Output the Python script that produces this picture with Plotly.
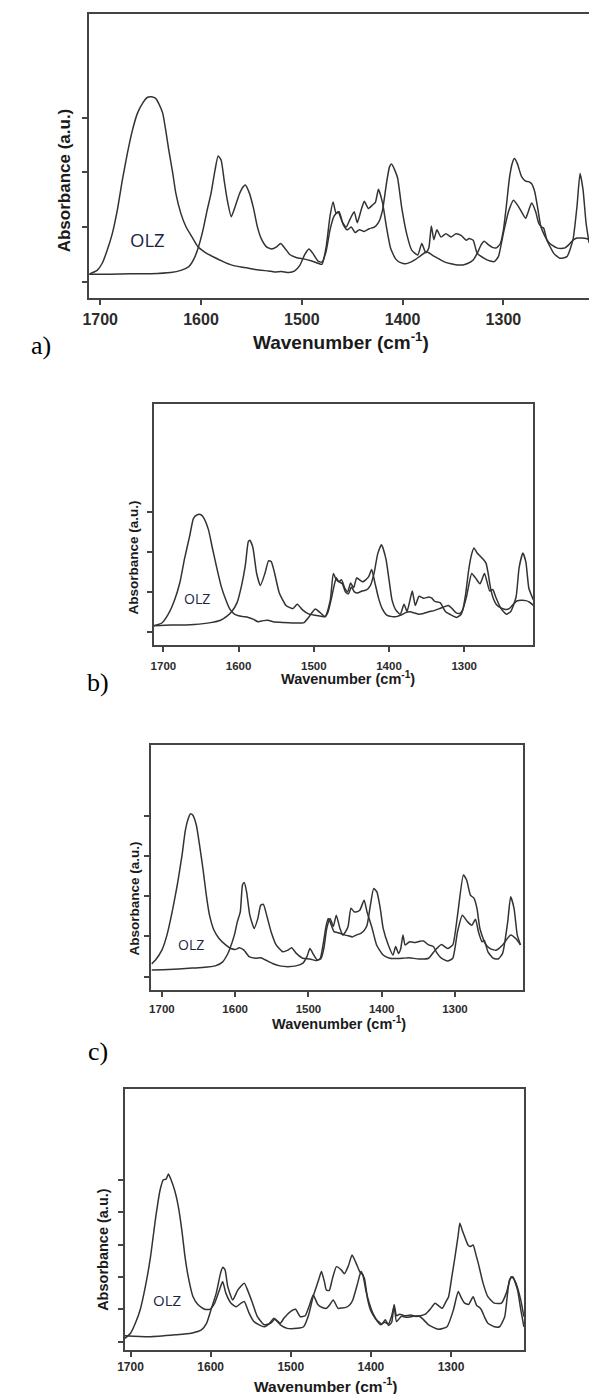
import plotly.graph_objects as go

# ---------------- data (wavenumber cm-1, absorbance in tick units) ----------------
x_ticks = [1700, 1600, 1500, 1400, 1300]
x_tick_text = ["1700", "1600", "1500", "1400", "1300"]

a_A = [(1711, 0.14), (1703, 0.21), (1698, 0.34), (1693, 0.58), (1688, 0.88), (1683, 1.31), (1678, 1.86),
       (1673, 2.35), (1668, 2.77), (1663, 3.08), (1658, 3.26), (1653, 3.37), (1649, 3.38), (1645, 3.35),
       (1642, 3.26), (1638, 3.08), (1635, 2.77), (1632, 2.41), (1628, 1.98), (1625, 1.62), (1620, 1.25),
       (1615, 1.01), (1609, 0.82), (1603, 0.64), (1596, 0.54), (1587, 0.45), (1578, 0.37), (1570, 0.31),
       (1560, 0.27), (1550, 0.24), (1540, 0.21), (1533, 0.20), (1527, 0.18), (1520, 0.19), (1513, 0.17),
       (1507, 0.20), (1502, 0.30), (1497, 0.50), (1493, 0.60), (1489, 0.52), (1484, 0.38), (1480, 0.36),
       (1476, 0.55), (1472, 0.95), (1468, 1.20), (1464, 1.28), (1460, 1.10), (1456, 1.00), (1452, 1.15),
       (1448, 1.28), (1445, 1.08), (1441, 1.32), (1438, 1.47), (1434, 1.34), (1430, 1.40), (1427, 1.45),
       (1424, 1.69), (1420, 1.45), (1416, 1.00), (1412, 0.62), (1407, 0.42), (1402, 0.35), (1397, 0.33),
       (1392, 0.36), (1388, 0.40), (1382, 0.48), (1376, 0.55), (1370, 0.48), (1364, 0.42), (1358, 0.36),
       (1352, 0.33), (1346, 0.31), (1340, 0.31), (1335, 0.34), (1330, 0.40), (1326, 0.52), (1322, 0.68),
       (1319, 0.74), (1315, 0.68), (1311, 0.63), (1307, 0.62), (1303, 0.70), (1300, 0.95), (1297, 1.40),
       (1294, 1.90), (1291, 2.18), (1289, 2.25), (1286, 2.15), (1282, 1.92), (1278, 1.84), (1275, 1.83),
       (1272, 1.79), (1269, 1.65), (1266, 1.35), (1263, 1.02), (1259, 0.84), (1255, 0.72), (1251, 0.66),
       (1247, 0.62), (1243, 0.61), (1239, 0.62), (1235, 0.68), (1231, 0.76), (1227, 0.80), (1222, 0.80),
       (1218, 0.79), (1215, 0.77)]

a_B = [(1711, 0.14), (1690, 0.14), (1670, 0.15), (1650, 0.15), (1630, 0.17), (1620, 0.21), (1612, 0.28),
       (1607, 0.42), (1603, 0.61), (1598, 0.95), (1594, 1.30), (1590, 1.62), (1586, 2.05), (1583, 2.30),
       (1580, 2.22), (1577, 1.85), (1574, 1.50), (1570, 1.19), (1566, 1.38), (1562, 1.60), (1558, 1.74),
       (1556, 1.77), (1552, 1.62), (1548, 1.35), (1544, 1.00), (1540, 0.78), (1535, 0.64), (1530, 0.60),
       (1525, 0.64), (1521, 0.70), (1517, 0.62), (1512, 0.50), (1505, 0.44), (1498, 0.42), (1490, 0.38),
       (1484, 0.34), (1480, 0.32), (1476, 0.62), (1472, 1.20), (1469, 1.46), (1466, 1.25), (1463, 1.28),
       (1459, 1.05), (1455, 0.95), (1451, 1.00), (1447, 0.90), (1443, 0.95), (1438, 0.92), (1433, 0.97),
       (1428, 1.00), (1424, 1.08), (1420, 1.30), (1416, 1.80), (1413, 2.10), (1411, 2.15), (1408, 2.05),
       (1405, 1.90), (1401, 1.37), (1396, 0.88), (1391, 0.58), (1385, 0.49), (1381, 0.70), (1377, 0.53),
       (1374, 0.62), (1371.5, 1.02), (1369, 0.77), (1366, 0.95), (1362, 0.82), (1357, 0.88), (1352, 0.82),
       (1347, 0.88), (1342, 0.85), (1337, 0.76), (1334, 0.79), (1330, 0.76), (1326, 0.52), (1319, 0.43),
       (1313, 0.38), (1309, 0.37), (1305, 0.46), (1300, 0.89), (1295, 1.28), (1290, 1.49), (1286, 1.40),
       (1283, 1.31), (1278, 1.16), (1275, 1.30), (1272, 1.44), (1268, 1.28), (1265, 1.07), (1262, 1.00),
       (1260, 0.98), (1257, 0.77), (1250, 0.52), (1244, 0.43), (1237, 0.46), (1231, 0.77), (1227, 1.38),
       (1224, 1.98), (1221, 1.68), (1218, 1.07), (1215, 0.71)]

b_A = [(1713, 0.15), (1702, 0.22), (1693.5, 0.44), (1685, 0.80), (1678, 1.24), (1672, 1.82), (1665, 2.40),
       (1660, 2.84), (1655, 2.93), (1650, 2.93), (1646, 2.84), (1640, 2.55), (1635, 2.11), (1629, 1.60),
       (1623, 1.13), (1617, 0.80), (1612, 0.58), (1606, 0.45), (1600, 0.40), (1594, 0.38), (1587, 0.36),
       (1580, 0.31), (1574, 0.25), (1567, 0.28), (1561, 0.29), (1554, 0.25), (1541, 0.23), (1528, 0.22),
       (1513, 0.23), (1507, 0.36), (1498, 0.57), (1491, 0.47), (1485, 0.38), (1481, 0.50), (1477, 0.80),
       (1473, 1.15), (1470, 1.35), (1467, 1.25), (1463, 1.30), (1459, 1.10), (1455, 1.00), (1451, 1.22),
       (1447, 1.10), (1443, 1.35), (1439, 1.30), (1435, 1.25), (1431, 1.30), (1427, 1.38), (1423, 1.56),
       (1419, 1.25), (1414, 0.85), (1409, 0.58), (1403, 0.42), (1396, 0.38), (1390, 0.38), (1384, 0.42),
       (1378, 0.48), (1372, 0.50), (1366, 0.47), (1360, 0.44), (1354, 0.46), (1347, 0.50), (1340, 0.53),
       (1333, 0.58), (1326, 0.63), (1321, 0.66), (1316, 0.58), (1311, 0.48), (1306, 0.46), (1302, 0.55),
       (1298, 0.95), (1294, 1.55), (1290, 1.95), (1287, 2.10), (1283, 1.98), (1279, 1.90), (1275, 1.82),
       (1271, 1.72), (1268, 1.45), (1265, 1.10), (1261, 0.82), (1257, 0.68), (1251, 0.60), (1245, 0.56),
       (1240, 0.58), (1235, 0.68), (1230, 0.77), (1224, 0.79), (1218, 0.78), (1213, 0.74), (1208, 0.66)]

b_B = [(1713, 0.15), (1690, 0.17), (1670, 0.17), (1659, 0.18), (1637, 0.23), (1624, 0.29), (1615, 0.40),
       (1609, 0.51), (1602, 0.73), (1596, 1.16), (1591, 1.67), (1587, 2.26), (1585, 2.29), (1581, 2.11),
       (1576, 1.46), (1571, 1.16), (1565, 1.46), (1560, 1.78), (1556.5, 1.75), (1552, 1.46), (1546, 0.98),
       (1537, 0.66), (1528, 0.58), (1522, 0.69), (1515, 0.55), (1507, 0.45), (1494, 0.40), (1485, 0.38),
       (1478, 0.80), (1474, 1.46), (1470, 1.30), (1466, 1.25), (1462, 1.20), (1458, 1.00), (1454, 0.95),
       (1450, 1.12), (1446, 1.00), (1442, 0.97), (1436, 1.02), (1430, 1.05), (1425, 1.15), (1420, 1.45),
       (1415, 1.95), (1410, 2.18), (1404, 1.82), (1400, 1.31), (1396, 0.80), (1391, 0.55), (1385, 0.44),
       (1380, 0.69), (1376, 0.51), (1372, 0.80), (1369, 1.02), (1365, 0.66), (1360, 0.89), (1354, 0.84),
       (1347, 0.87), (1343, 0.84), (1339, 0.76), (1332, 0.73), (1325, 0.51), (1319, 0.44), (1310, 0.36),
       (1304, 0.44), (1297, 0.87), (1290, 1.46), (1285, 1.35), (1279, 1.20), (1273, 1.46), (1266, 1.02),
       (1262, 1.06), (1258, 0.87), (1251, 0.58), (1244, 0.44), (1238, 0.51), (1231, 0.87), (1227, 1.60),
       (1222, 1.97), (1218, 1.75), (1214, 1.09), (1208, 0.80)]

c_A = [(1714, 0.32), (1709, 0.41), (1700, 0.66), (1693, 1.04), (1686, 1.61), (1679, 2.28), (1672.5, 3.02),
       (1668, 3.64), (1664, 3.93), (1661, 4.05), (1658, 4.02), (1653, 3.77), (1648.6, 3.27), (1644, 2.69),
       (1639.4, 2.03), (1635, 1.53), (1629, 1.16), (1622, 0.95), (1613, 0.79), (1606, 0.70), (1599, 0.68),
       (1594.5, 0.72), (1588, 0.66), (1581, 0.50), (1572, 0.46), (1565, 0.47), (1558, 0.41), (1549, 0.33),
       (1539, 0.27), (1528, 0.25), (1517, 0.27), (1508, 0.33), (1502, 0.50), (1498, 0.70), (1493, 0.55),
       (1488, 0.42), (1483, 0.45), (1479, 0.70), (1475, 1.20), (1470.5, 1.45), (1466, 1.25), (1462, 1.53),
       (1457, 1.20), (1453, 1.04), (1450, 1.10), (1446, 1.24), (1442, 1.70), (1438, 1.62), (1435, 1.61),
       (1430, 1.65), (1424, 1.90), (1420, 1.61), (1413, 1.20), (1407, 0.79), (1398, 0.54), (1389, 0.46),
       (1380, 0.45), (1371, 0.46), (1362.6, 0.47), (1349, 0.44), (1336, 0.46), (1327, 0.66), (1318.5, 0.80),
       (1310, 0.70), (1303, 0.79), (1296.5, 1.53), (1288.5, 2.53), (1284, 2.40), (1279, 2.03), (1274, 1.95),
       (1270, 1.70), (1266, 1.20), (1259, 0.83), (1252, 0.70), (1244, 0.66), (1235, 0.79), (1224, 1.04),
       (1217, 0.95), (1210.6, 0.79)]

c_B = [(1714, 0.17), (1691, 0.18), (1663, 0.21), (1645, 0.23), (1627, 0.27), (1617, 0.37), (1611, 0.54),
       (1608, 0.66), (1601, 1.04), (1597, 1.37), (1593, 1.61), (1590, 2.28), (1587.6, 2.34), (1584.4, 2.11),
       (1580, 1.53), (1574, 1.20), (1569, 1.45), (1565, 1.78), (1561.5, 1.80), (1557, 1.53), (1551, 1.12),
       (1544, 0.79), (1535, 0.62), (1528, 0.66), (1523, 0.72), (1516.5, 0.58), (1508, 0.46), (1498, 0.44),
       (1489, 0.40), (1484, 0.45), (1480, 0.80), (1476, 1.25), (1473, 1.45), (1470.5, 1.37), (1465, 1.12),
       (1461, 1.10), (1457, 1.08), (1451, 1.04), (1446, 1.02), (1440, 0.99), (1434, 1.04), (1428.6, 1.08),
       (1424, 1.15), (1420, 1.28), (1415.4, 1.78), (1411, 2.19), (1406.6, 2.11), (1402, 1.70), (1398, 1.20),
       (1391, 0.79), (1384.6, 0.54), (1381, 0.75), (1377, 0.58), (1374, 0.70), (1371, 1.04), (1368, 0.79),
       (1362, 0.87), (1354, 0.85), (1348, 0.88), (1343, 0.89), (1336, 0.79), (1329.5, 0.75), (1325, 0.60),
       (1318.5, 0.46), (1310, 0.39), (1303, 0.46), (1296.5, 1.12), (1290, 1.53), (1283, 1.37), (1277, 1.28),
       (1272, 1.43), (1268, 1.12), (1263, 0.87), (1260, 0.90), (1255, 0.62), (1248, 0.46), (1241, 0.44),
       (1235, 0.58), (1228, 1.37), (1224, 1.99), (1219.4, 1.70), (1215, 1.04), (1210.6, 0.79)]

d_A = [(1707, 0.10), (1700, 0.26), (1694, 0.57), (1688, 0.98), (1681.5, 1.70), (1675, 2.63), (1669, 3.77),
       (1663, 4.70), (1659, 5.01), (1655.6, 5.03), (1652.7, 5.19), (1649.4, 5.01), (1644.4, 4.64),
       (1640.3, 4.18), (1636, 3.46), (1632, 2.63), (1628, 2.01), (1622, 1.39), (1615.6, 1.14), (1607.4, 1.00),
       (1601, 1.00), (1595, 1.19), (1589, 1.60), (1585, 1.86), (1581, 1.50), (1574.5, 1.19), (1568, 1.08),
       (1562, 1.19), (1558, 1.24), (1552, 0.88), (1546, 0.62), (1539.5, 0.52), (1533, 0.46), (1527, 0.55),
       (1521, 0.72), (1513, 0.57), (1508.6, 0.72), (1500.4, 0.93), (1494, 1.00), (1488, 0.77), (1482, 0.80),
       (1477, 1.10), (1472, 1.44), (1466, 1.14), (1460, 1.05), (1455.6, 1.03), (1451, 1.15), (1447, 1.29),
       (1441, 1.03), (1436, 1.04), (1431, 1.06), (1426, 1.15), (1422.6, 1.29), (1416.5, 1.81), (1412.3, 2.17),
       (1408, 1.95), (1404, 1.30), (1400, 0.95), (1394, 0.70), (1388, 0.52), (1383, 0.60), (1378, 0.55),
       (1374, 0.80), (1371, 1.10), (1368, 0.62), (1362, 0.78), (1355, 0.75), (1348, 0.78), (1341, 0.80),
       (1336, 0.72), (1328, 0.52), (1316, 0.38), (1305, 0.46), (1297, 0.98), (1291, 1.55), (1287, 1.35),
       (1283, 1.19), (1278, 1.15), (1272.4, 1.39), (1268, 1.12), (1264, 1.05), (1262, 0.98), (1258, 0.75),
       (1254, 0.57), (1246, 0.46), (1239.5, 0.46), (1233, 0.77), (1227, 1.91), (1223, 2.01), (1217, 1.60),
       (1213, 1.00), (1209, 0.46)]

d_B = [(1707, 0.18), (1677, 0.15), (1644, 0.21), (1624, 0.26), (1611.5, 0.36), (1605, 0.57), (1599, 1.03),
       (1593, 1.50), (1587.6, 2.12), (1584.8, 2.30), (1582, 2.22), (1578.6, 1.70), (1572.4, 1.29),
       (1566, 1.60), (1558, 1.81), (1554, 1.60), (1547.7, 1.19), (1541.6, 0.77), (1533, 0.52), (1525, 0.57),
       (1520, 0.69), (1513, 0.52), (1504.5, 0.41), (1492, 0.41), (1484, 0.46), (1478, 0.80), (1472, 1.40),
       (1466, 1.85), (1461.7, 2.17), (1458, 1.85), (1455.6, 1.60), (1452, 1.58), (1448, 1.95), (1443, 2.32),
       (1437, 2.22), (1433, 2.10), (1428, 2.35), (1423.5, 2.68), (1418.5, 2.43), (1414, 2.17), (1410, 2.05),
       (1406, 1.55), (1402, 1.19), (1397, 0.85), (1392, 0.65), (1386, 0.55), (1382, 0.68), (1378, 0.50),
       (1374, 0.60), (1371, 1.15), (1368, 0.80), (1364, 0.85), (1358, 0.80), (1350, 0.82), (1344, 0.78),
       (1338, 0.80), (1332, 0.85), (1326, 1.00), (1320, 1.19), (1315, 1.10), (1311, 1.03), (1306, 1.25),
       (1303, 1.39), (1299, 2.00), (1295, 2.63), (1291, 3.30), (1289, 3.66), (1286, 3.45), (1283, 3.25),
       (1279, 3.00), (1276, 2.94), (1272.4, 2.99), (1269, 2.70), (1266, 2.43), (1260, 1.81), (1254, 1.39),
       (1246, 1.19), (1237, 1.19), (1231, 1.50), (1225, 2.01), (1222, 1.95), (1219, 1.81), (1213, 1.29),
       (1209, 0.77)]

panel_letters = ["a)", "b)", "c)"]
curve_label = "OLZ"
x_title = "Wavenumber (cm<sup>-1</sup>)"
y_title = "Absorbance (a.u.)"

# ---------------- layout (pixels) ----------------
W, H = 589, 1394
LINE = "#333333"
FRAME = "#444444"

panels = [
    dict(curves=(a_A, a_B), px=(83.3, 589), py=(14, 298.3), xr=(1710.8, 1215.1), yr=(-0.30, 4.89),
         yt=[0, 1, 2, 3], right=False, tfs=16, stand=1,
         xt=(338, 341, 19), yl=(58, 180, 17), olz=(142.5, 240, 18.5), letter=(34, 345)),
    dict(curves=(b_A, b_B), px=(148.3, 532.7), py=(404, 645), xr=(1713.1, 1208.0), yr=(-0.33, 5.70),
         yt=[0, 1, 2, 3], right=True, tfs=11.5, stand=4,
         xt=(345, 678, 14.5), yl=(128, 557, 13.5), olz=(192, 598, 14), letter=(92, 682)),
    dict(curves=(c_A, c_B), px=(146, 522.7), py=(745, 990), xr=(1714.5, 1206.5), yr=(-0.33, 5.76),
         yt=[0, 1, 2, 3, 4], right=True, tfs=11.5, stand=2,
         xt=(336, 1023, 14.5), yl=(129, 898, 13.5), olz=(186, 945, 14), letter=(92, 1051)),
    dict(curves=(d_A, d_B), px=(119, 523.3), py=(1089.3, 1350), xr=(1707.4, 1208.8), yr=(-0.26, 7.81),
         yt=[0, 1, 2, 3, 4, 5], right=True, tfs=12, stand=0,
         xt=(322, 1384.5, 15.5), yl=(97, 1249, 14.5), olz=(162, 1300, 15), letter=None),
]

fig = go.Figure()
annotations = []
layout = dict(width=W, height=H, margin=dict(l=0, r=0, t=0, b=0), paper_bgcolor="white",
              plot_bgcolor="white", showlegend=False)

for i, p in enumerate(panels):
    n = "" if i == 0 else str(i + 1)
    for curve in p["curves"]:
        fig.add_trace(go.Scatter(x=[c[0] for c in curve], y=[c[1] for c in curve], mode="lines",
                                 line=dict(color=LINE, width=1.5, shape="spline", smoothing=0.5),
                                 xaxis="x" + n, yaxis="y" + n, hoverinfo="skip"))
    layout["xaxis" + n] = dict(
        domain=[p["px"][0] / W, p["px"][1] / W], range=list(p["xr"]), anchor="y" + n,
        tickvals=x_ticks, ticktext=x_tick_text, ticks="outside", ticklen=5, tickwidth=1.5,
        tickcolor=FRAME, showline=True, linecolor=FRAME, linewidth=1.8, mirror=True,
        showgrid=False, zeroline=False, ticklabelstandoff=p["stand"],
        tickfont=dict(family="Liberation Sans, Arial", size=p["tfs"], color="#2b2b2b", weight="bold"))
    layout["yaxis" + n] = dict(
        domain=[1 - p["py"][1] / H, 1 - p["py"][0] / H], range=list(p["yr"]), anchor="x" + n,
        tickvals=p["yt"], showticklabels=False, ticks="outside", ticklen=5, tickwidth=1.5,
        tickcolor=FRAME, showline=True, linecolor=FRAME, linewidth=1.8, mirror=p["right"],
        showgrid=False, zeroline=False)

    xt = p["xt"]
    annotations.append(dict(text=x_title, x=xt[0] / W, y=1 - xt[1] / H, xref="paper", yref="paper",
                            xanchor="center", yanchor="middle", showarrow=False,
                            font=dict(family="Liberation Sans, Arial", size=xt[2], color="#1a1a1a",
                                      weight="bold")))
    yl = p["yl"]
    annotations.append(dict(text=y_title, x=yl[0] / W, y=1 - yl[1] / H, xref="paper", yref="paper",
                            xanchor="center", yanchor="middle", showarrow=False, textangle=-90,
                            font=dict(family="Liberation Sans, Arial", size=yl[2], color="#1a1a1a",
                                      weight="bold")))
    ol = p["olz"]
    annotations.append(dict(text=curve_label, x=ol[0] / W, y=1 - ol[1] / H, xref="paper", yref="paper",
                            xanchor="center", yanchor="middle", showarrow=False,
                            font=dict(family="Open Sans, Noto Sans", size=ol[2], color="#1b2545")))
    if p["letter"] is not None:
        lt = p["letter"]
        annotations.append(dict(text=panel_letters[i], x=lt[0] / W, y=1 - lt[1] / H, xref="paper",
                                yref="paper", xanchor="center", yanchor="middle", showarrow=False,
                                font=dict(family="Liberation Serif, Times New Roman", size=26,
                                          color="black")))

layout["annotations"] = annotations
fig.update_layout(**layout)
fig.write_html("out.html")
